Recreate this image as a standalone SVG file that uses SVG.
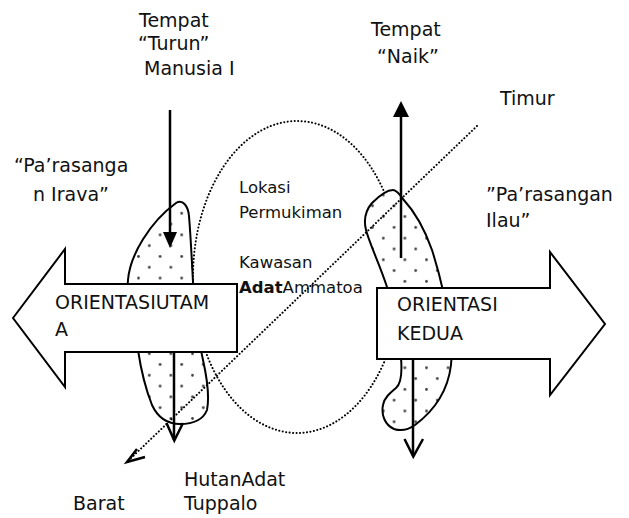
<svg xmlns="http://www.w3.org/2000/svg" width="629" height="518" viewBox="0 0 629 518">
  <style>
    text { font-family: "DejaVu Sans", "Liberation Sans", sans-serif; fill: #111; }
    .lg { font-size: 19px; }
    .md { font-size: 16.5px; }
    .outline { fill: #fff; stroke: #000; stroke-width: 2; stroke-linejoin: miter; }
    .blob { stroke: #000; stroke-width: 2; }
    .dotted { fill: none; stroke: #000; stroke-width: 2; stroke-dasharray: 0.1 3.4; stroke-linecap: round; }
    .shaft { stroke: #000; stroke-width: 2.5; fill: none; }
    .open { stroke: #000; stroke-width: 2.5; fill: none; stroke-linejoin: miter; }
  </style>
  <defs>
    <pattern id="dotsL" patternUnits="userSpaceOnUse" x="176.3" y="207.9" width="21.6" height="21.6">
      <rect width="21.6" height="21.6" fill="#fff"/>
      <circle cx="5.4" cy="5.4" r="1.4" fill="#444"/>
      <circle cx="16.2" cy="16.2" r="1.4" fill="#444"/>
    </pattern>
    <pattern id="dotsR" patternUnits="userSpaceOnUse" x="377.9" y="189.6" width="21.6" height="21.6">
      <rect width="21.6" height="21.6" fill="#fff"/>
      <circle cx="5.4" cy="5.4" r="1.4" fill="#444"/>
      <circle cx="16.2" cy="16.2" r="1.4" fill="#444"/>
    </pattern>
  </defs>

  <rect width="629" height="518" fill="#fff"/>

  <!-- settlement area (dotted ellipse) -->
  <g id="settlement">
    <ellipse class="dotted" cx="297" cy="277" rx="104" ry="156"/>
  </g>

  <!-- dotted landform outlines -->
  <g id="hill-west">
    <path class="blob" fill="url(#dotsL)" d="M176,203 C183,199 188,206 189,216 C191,240 192,265 194,300 C196,330 200,345 203,360 C207,378 210,395 207,410 C203,420 192,424 180,424 C168,424 158,418 152,405 C146,390 141,370 138,350 C134,325 126,300 128,280 C130,255 150,222 176,203 Z"/>
  </g>
  <g id="hill-east">
    <path class="blob" fill="url(#dotsR)" d="M393,190 C397,190 400,195 403,199 C415,212 425,230 432,250 C440,275 446,300 450,330 C452,345 452,355 451,365 C448,390 435,410 415,425 C408,430 400,431 394,429 C385,425 381,415 383,405 C384,398 390,393 396,388 C402,383 402,370 401,358 C398,335 392,310 387,287 C380,265 370,245 366,230 C363,218 366,210 372,203 C378,197 386,190 393,190 Z"/>
  </g>

  <!-- connectors -->
  <g id="connectors">
    <!-- east-west axis -->
    <line class="dotted" x1="477" y1="126" x2="128" y2="461"/>
    <polyline class="open" stroke-width="2" points="137,449 127,462 145,457"/>
    <!-- descent from above -->
    <line class="shaft" x1="170" y1="110" x2="170" y2="234"/>
    <polygon points="163,232 177,232 170,248" fill="#000"/>
    <!-- ascent -->
    <line class="shaft" x1="401" y1="258" x2="401" y2="116"/>
    <polygon points="393,117 409,117 401,101" fill="#000"/>
    <!-- down to the forest -->
    <line class="shaft" x1="174" y1="352" x2="174" y2="440"/>
    <polyline class="open" points="166.5,423 174.3,440.5 183,423"/>
    <line class="shaft" x1="413" y1="359" x2="413" y2="456"/>
    <polyline class="open" points="404.5,439 413.3,456.5 423,439"/>
  </g>

  <!-- main orientation arrows -->
  <g id="orientasi-utama">
    <polygon class="outline" points="13,318 65,249 65,284 237,284 237,352 65,352 65,387"/>
    <text class="lg" x="55" y="309">ORIENTASIUTAM</text>
    <text class="lg" x="55" y="336">A</text>
  </g>
  <g id="orientasi-kedua">
    <polygon class="outline" points="377,288 550,288 550,252 605,324 550,395 550,359 377,359"/>
    <text class="lg" x="397" y="311">ORIENTASI</text>
    <text class="lg" x="397" y="340">KEDUA</text>
  </g>

  <!-- labels -->
  <g id="tempat-turun">
    <text class="lg" x="139" y="27">Tempat</text>
    <text class="lg" x="138" y="50">“Turun”</text>
    <text class="lg" x="144" y="75">Manusia I</text>
  </g>
  <g id="tempat-naik">
    <text class="lg" x="371" y="36">Tempat</text>
    <text class="lg" x="377" y="63">“Naik”</text>
  </g>
  <g id="timur">
    <text class="lg" x="500" y="105">Timur</text>
  </g>
  <g id="parasangan-irava">
    <text class="lg" x="14" y="172">“Pa’rasanga</text>
    <text class="lg" x="33" y="201">n Irava”</text>
  </g>
  <g id="parasangan-ilau">
    <text class="lg" x="486" y="201">”Pa’rasangan</text>
    <text class="lg" x="486" y="227">Ilau”</text>
  </g>
  <g id="lokasi">
    <text class="md" x="239" y="193">Lokasi</text>
    <text class="md" x="239" y="218">Permukiman</text>
    <text class="md" x="239" y="268">Kawasan</text>
    <text class="md" x="239" y="293"><tspan font-weight="bold">Adat</tspan>Ammatoa</text>
  </g>
  <g id="hutan">
    <text class="lg" x="184" y="486">HutanAdat</text>
    <text class="lg" x="184" y="510">Tuppalo</text>
  </g>
  <g id="barat">
    <text class="lg" x="73" y="510">Barat</text>
  </g>
</svg>
